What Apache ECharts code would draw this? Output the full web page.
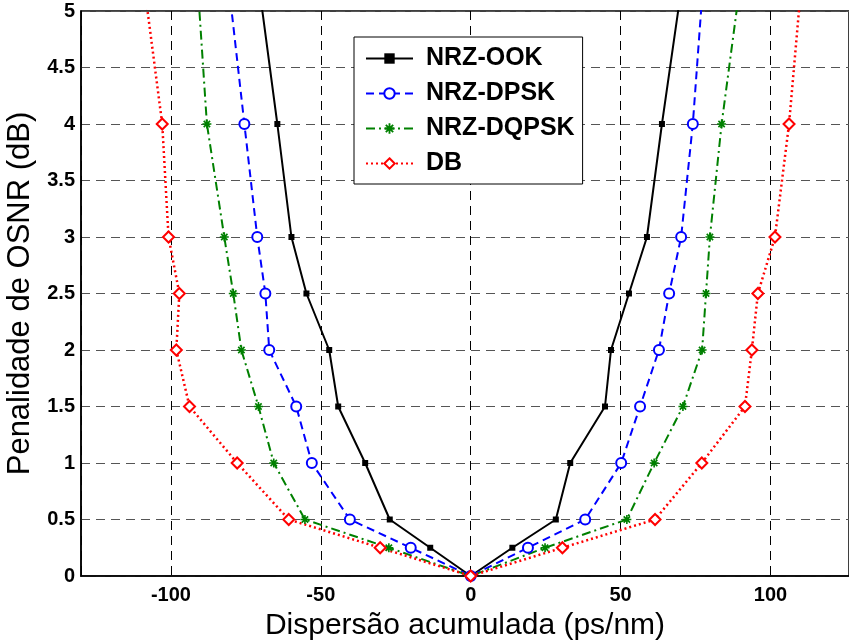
<!DOCTYPE html>
<html>
<head>
<meta charset="utf-8">
<script src="https://cdn.jsdelivr.net/npm/echarts@6/dist/echarts.min.js"></script>
<style>html,body{margin:0;padding:0;background:#fff}#c{width:849px;height:641px}</style>
</head>
<body>
<div id="c"></div>
<script>
// Penalty levels (dB) shared by all curves, ordered left to right
var penalty = [6, 4, 3, 2.5, 2, 1.5, 1, 0.5, 0.25, 0, 0.25, 0.5, 1, 1.5, 2, 2.5, 3, 4, 6];
// Accumulated dispersion (ps/nm) for each format
var ookX   = [-74.5, -64.5, -59.8, -54.8, -47.2, -44.2, -35.2, -27.0, -13.5, 0, 13.9, 28.4, 33.2, 44.8, 46.8, 52.8, 58.8, 63.8, 74.6];
var dpskX  = [-84.0, -75.5, -71.2, -68.5, -67.2, -58.2, -53.0, -40.3, -20.0, 0, 19.1, 38.2, 50.2, 56.5, 62.8, 66.2, 70.2, 74.1, 79.6];
var dqpskX = [-93.0, -88.0, -82.2, -79.2, -76.5, -70.8, -65.7, -55.3, -27.3, 0, 24.8, 52.1, 61.2, 70.8, 77.2, 78.5, 79.8, 83.7, 93.7];
var dbX    = [-112.7, -102.9, -100.8, -97.2, -98.2, -93.8, -77.9, -60.7, -30.2, 0, 30.6, 61.5, 77.1, 91.5, 93.8, 95.8, 101.5, 106.2, 112.8];
var seriesNames = ['NRZ-OOK', 'NRZ-DPSK', 'NRZ-DQPSK', 'DB'];
var xTitle = 'Dispersão acumulada (ps/nm)';
var yTitle = 'Penalidade de OSNR (dB)';

function pairs(xs, ys) { return xs.map(function (x, i) { return [x, ys[i]]; }); }

var FONT = 'Liberation Sans, Arial, sans-serif';
var starPath = 'path://M-1.8,-10L1.8,-10L1.8,10L-1.8,10Z M-10,-1.8L10,-1.8L10,1.8L-10,1.8Z M5.8,-8.35L8.35,-5.8L-5.8,8.35L-8.35,5.8Z M-8.35,-5.8L-5.8,-8.35L8.35,5.8L5.8,8.35Z';

var chart = echarts.init(document.getElementById('c'), null, {renderer: 'canvas'});
chart.setOption({
  animation: false,
  backgroundColor: '#fff',
  grid: {left: 81, right: 0, top: 11, bottom: 65, outerBoundsMode: 'none', containLabel: false,
         show: true, borderColor: '#000', borderWidth: 1.5, backgroundColor: 'transparent'},
  legend: {
    orient: 'vertical', left: 354, top: 37,
    padding: [9, 8, 8, 11],
    itemGap: 10, itemWidth: 47, itemHeight: 13,
    backgroundColor: '#fff', borderColor: '#000', borderWidth: 1,
    textStyle: {fontFamily: FONT, fontWeight: 'bold', fontSize: 25, color: '#000', lineHeight: 25, padding: [0, 0, 0, 8]},
    data: seriesNames
  },
  xAxis: {
    type: 'value', min: -130, max: 126.2, splitNumber: 5,
    name: xTitle, nameLocation: 'middle', nameGap: 35,
    nameTextStyle: {fontFamily: FONT, fontSize: 30, color: '#000'},
    axisLine: {onZero: false, lineStyle: {color: '#000', width: 1.5}},
    axisTick: {show: false},
    axisLabel: {fontFamily: FONT, fontWeight: 'bold', fontSize: 20, color: '#000', margin: 9, showMinLabel: false, showMaxLabel: false},
    splitLine: {show: true, lineStyle: {color: '#000', width: 1, type: [9, 6]}}
  },
  yAxis: {
    type: 'value', min: 0, max: 5, interval: 0.5,
    name: yTitle, nameLocation: 'middle', nameGap: 41, nameRotate: 90,
    nameTextStyle: {fontFamily: FONT, fontSize: 31, color: '#000'},
    axisLine: {show: true, onZero: false, lineStyle: {color: '#000', width: 1.5}},
    axisTick: {show: false},
    axisLabel: {fontFamily: FONT, fontWeight: 'bold', fontSize: 20, color: '#000', margin: 6},
    splitLine: {show: true, lineStyle: {color: '#555', width: 1, type: [9, 6]}}
  },
  series: [
    {name: seriesNames[0], type: 'line', data: pairs(ookX, penalty), clip: true,
     symbol: 'rect', symbolSize: 6, color: '#000',
     itemStyle: {color: '#000'}, lineStyle: {color: '#000', width: 2, type: 'solid'}},
    {name: seriesNames[1], type: 'line', data: pairs(dpskX, penalty), clip: true,
     symbol: 'emptyCircle', symbolSize: 10, color: '#0000ff',
     itemStyle: {color: '#0000ff', borderWidth: 2}, lineStyle: {color: '#0000ff', width: 2, type: [8, 5]}},
    {name: seriesNames[2], type: 'line', data: pairs(dqpskX, penalty), clip: true,
     symbol: starPath, symbolSize: 9, color: '#008000',
     itemStyle: {color: '#008000'}, lineStyle: {color: '#008000', width: 2, type: [9, 4, 2, 4]}},
    {name: seriesNames[3], type: 'line', data: pairs(dbX, penalty), clip: true,
     symbol: 'emptyDiamond', symbolSize: 11, color: '#ff0000',
     itemStyle: {color: '#ff0000', borderWidth: 2}, lineStyle: {color: '#ff0000', width: 2.5, type: [2, 3]}}
  ]
});
</script>
</body>
</html>
